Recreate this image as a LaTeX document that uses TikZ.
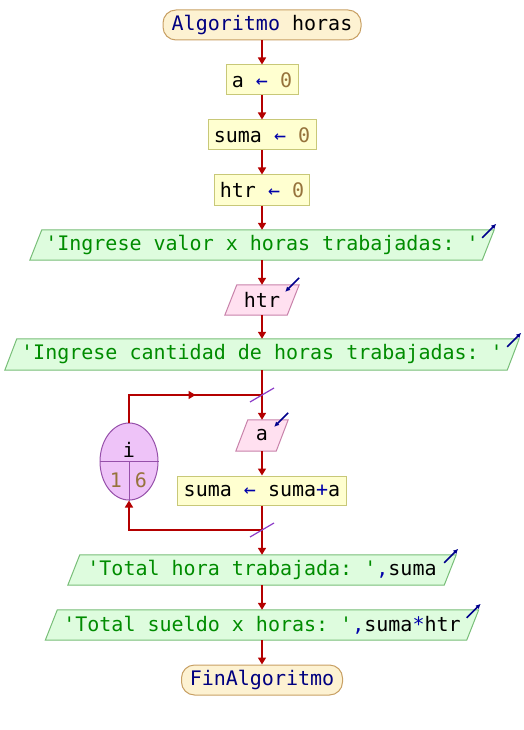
\documentclass[tikz,border=0pt]{standalone}
\usepackage{fontspec}
\setmonofont{DejaVu Sans Mono}
\usetikzlibrary{arrows.meta,backgrounds,calc,shapes.geometric}
\definecolor{flowc}{RGB}{180,0,0}
\definecolor{kw}{RGB}{0,0,128}
\definecolor{str}{RGB}{0,140,0}
\definecolor{num}{RGB}{150,115,60}
\definecolor{op}{RGB}{0,0,170}
\definecolor{procF}{RGB}{255,255,208}
\definecolor{procB}{RGB}{200,200,120}
\definecolor{termF}{RGB}{253,242,210}
\definecolor{termB}{RGB}{200,160,100}
\definecolor{outF}{RGB}{222,252,222}
\definecolor{outB}{RGB}{120,190,120}
\definecolor{inF}{RGB}{255,224,240}
\definecolor{inB}{RGB}{200,130,170}
\definecolor{cntF}{RGB}{238,195,248}
\definecolor{cntB}{RGB}{150,80,170}
\definecolor{slashc}{RGB}{140,60,200}
\definecolor{ioc}{RGB}{0,0,140}
\newcommand\paral[3]{\path[fill=#2,draw=#3,line width=1pt]
  ($(#1.south west)+(-6,0)$) -- ($(#1.north west)+(6,0)$) --
  ($(#1.north east)+(6,0)$) -- ($(#1.south east)+(-6,0)$) -- cycle;}
\begin{document}
\begin{tikzpicture}[x=1pt,y=-1pt,
  font=\ttfamily\fontsize{20}{24}\selectfont,
  base/.style={inner sep=0pt, minimum height=30pt, anchor=center},
  proc/.style={base, draw=procB, fill=procF, line width=1pt},
  term/.style={base, draw=termB, fill=termF, line width=1pt, rounded corners=13pt},
  iobox/.style={base},
  flow/.style={draw=flowc, line width=1.6pt, -{Triangle[length=7pt,width=8pt]}},
  flowline/.style={draw=flowc, line width=1.6pt},
  slash/.style={draw=slashc, line width=1.2pt},
  ioarrow/.style={draw=ioc, line width=1.5pt, -{Latex[length=5pt,width=5pt]}},
  cnt/.style={ellipse, draw=cntB, fill=cntF, line width=1pt, inner sep=0pt}
]
\path[use as bounding box] (0,0) rectangle (524,730);

\node[term, minimum width=198pt] (start) at (262,25) {\textcolor{kw}{Algoritmo} horas};
\node[proc, minimum width=72pt] (a0) at (262,80) {a \textcolor{op}{←} \textcolor{num}{0}};
\node[proc, minimum width=108pt] (s0) at (262,135) {suma \textcolor{op}{←} \textcolor{num}{0}};
\node[proc, minimum width=95pt] (h0) at (262,190) {htr \textcolor{op}{←} \textcolor{num}{0}};
\node[iobox, minimum width=452pt] (o1) at (262,245) {\textcolor{str}{'Ingrese valor x horas trabajadas: '}};
\node[iobox, minimum width=62pt] (ih) at (262,300) {htr};
\node[iobox, minimum width=502pt, minimum height=31pt] (o2) at (262,354.5) {\textcolor{str}{'Ingrese cantidad de horas trabajadas: '}};
\node[iobox, minimum width=40pt, minimum height=31pt] (ia) at (262,435.5) {a};
\node[proc, minimum width=169pt, minimum height=29pt] (sa) at (262,490.5) {suma \textcolor{op}{←} suma\textcolor{op}{+}a};
\node[iobox, minimum width=376pt] (o3) at (262,570) {\textcolor{str}{'Total hora trabajada: '}\textcolor{op}{,}suma};
\node[iobox, minimum width=421pt] (o4) at (262,625) {\textcolor{str}{'Total sueldo x horas: '}\textcolor{op}{,}suma\textcolor{op}{*}htr};
\node[term, minimum width=161pt] (end) at (262,680) {\textcolor{kw}{FinAlgoritmo}};

% counter ellipse
\node[cnt, minimum width=58pt, minimum height=77pt] (cnt) at (129,461.5) {};
\draw[draw=cntB, line width=1pt] (cnt.west) -- (cnt.east);
\draw[draw=cntB, line width=1pt] (cnt.center) -- (cnt.south);
\node[inner sep=0pt] (cnti) at (129,450) {i};
\node[inner sep=0pt, text=num] (cnt1) at (116,480) {1};
\node[inner sep=0pt, text=num] (cnt6) at (141,480) {6};

\begin{scope}[on background layer]
  \paral{o1}{outF}{outB}
  \paral{ih}{inF}{inB}
  \paral{o2}{outF}{outB}
  \paral{ia}{inF}{inB}
  \paral{o3}{outF}{outB}
  \paral{o4}{outF}{outB}
\end{scope}

% connectors
\draw[flow] (start.south) -- (a0.north);
\draw[flow] (a0.south) -- (s0.north);
\draw[flow] (s0.south) -- (h0.north);
\draw[flow] (h0.south) -- (o1.north);
\draw[flow] (o1.south) -- (ih.north);
\draw[flow] (ih.south) -- (o2.north);
\draw[flow] (o2.south) -- (ia.north);
\draw[flow] (ia.south) -- (sa.north);
\draw[flow] (sa.south) -- (o3.north);
\draw[flow] (o3.south) -- (o4.north);
\draw[flow] (o4.south) -- (end.north);

% loop
\coordinate (jt) at (262,395);
\coordinate (jb) at (262,530);
\draw[flowline] (cnt.north) |- (jt);
\draw[flow] (cnt.north |- jt) -- ($(cnt.north |- jt)!0.5!(jt)$);
\draw[flow] (jb) -| (cnt.south);
\draw[slash] ($(jt)+(-12,7)$) -- ($(jt)+(12,-7)$);
\draw[slash] ($(jb)+(-12,7)$) -- ($(jb)+(12,-7)$);

% io arrows
\foreach \n in {o1,o2,o3,o4}{
  \draw[ioarrow] ($(\n.north east)+(-6,8)$) -- ($(\n.north east)+(8,-6)$);
}
\foreach \n in {ih,ia}{
  \draw[ioarrow] ($(\n.north east)+(6,-7)$) -- ($(\n.north east)+(-8,7)$);
}
\end{tikzpicture}
\end{document}
